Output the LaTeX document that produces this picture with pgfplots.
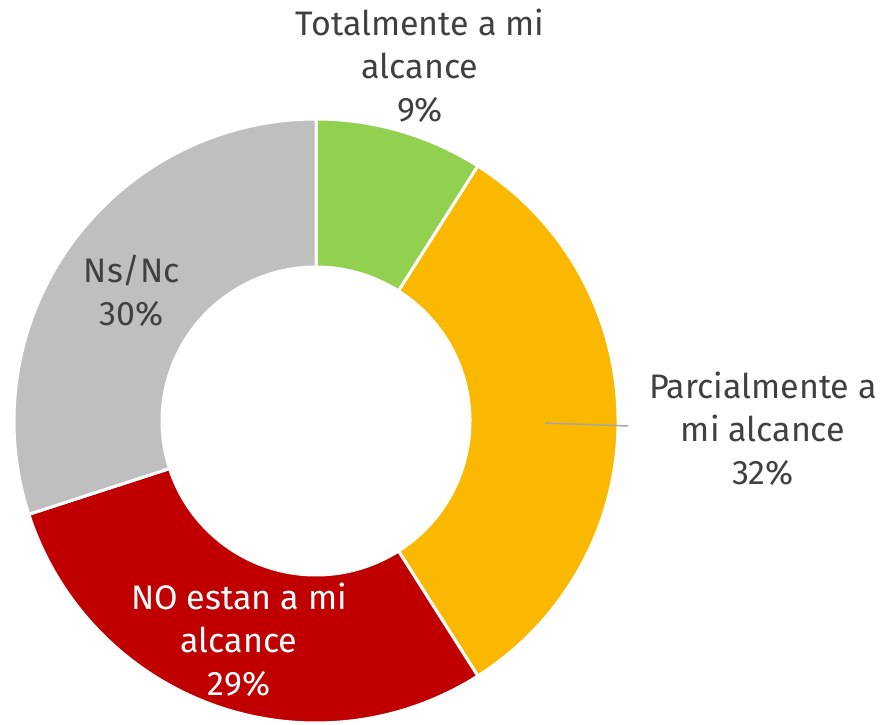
\documentclass[border=0pt]{standalone}
\usepackage{pgfplots}
\pgfplotsset{compat=1.18}
\usepackage{fontspec}
\setmainfont{Fira Sans}
\definecolor{cgreen}{HTML}{92D050}
\definecolor{corange}{HTML}{FAB800}
\definecolor{cred}{HTML}{C00000}
\definecolor{cgray}{HTML}{BFBFBF}
\definecolor{ctext}{HTML}{404040}
\def\cx{316}\def\cy{304}
\def\Ro{302}\def\Ri{154}
\newcommand{\slice}[3]{%
  \filldraw[fill=#3, draw=white, line width=3bp]
    (axis cs:{\cx+\Ro*cos(#1)},{\cy+\Ro*sin(#1)})
    arc[start angle=#1, end angle=#2, radius=\Ro bp]
    -- (axis cs:{\cx+\Ri*cos(#2)},{\cy+\Ri*sin(#2)})
    arc[start angle=#2, end angle=#1, radius=\Ri bp] -- cycle;}
\begin{document}
\begin{tikzpicture}
\begin{axis}[hide axis, scale only axis, width=896bp, height=725bp,
  xmin=0, xmax=896, ymin=0, ymax=725, clip=false]
% values: 9, 32, 29, 30 (percent), clockwise from top
\slice{90}{57.6}{cgreen}
\slice{57.6}{-57.6}{corange}
\slice{-57.6}{-162}{cred}
\slice{-162}{-270}{cgray}
\draw[gray!70, line width=1.5bp] (axis cs:545,302) -- (axis cs:628,299);
\tikzset{lab/.style={align=center, font=\fontsize{34bp}{43bp}\selectfont, text=ctext, inner sep=0pt}}
\node[lab] at (axis cs:420,659) {Totalmente a mi\\alcance\\9\%};
\node[lab] at (axis cs:763,296) {Parcialmente a\\mi alcance\\32\%};
\node[lab, text=white] at (axis cs:239,85) {NO estan a mi\\alcance\\29\%};
\node[lab] at (axis cs:132,434) {Ns/Nc\\30\%};
\end{axis}
\pgfresetboundingbox
\useasboundingbox (current axis.south west) rectangle (current axis.north east);
\end{tikzpicture}
\end{document}
